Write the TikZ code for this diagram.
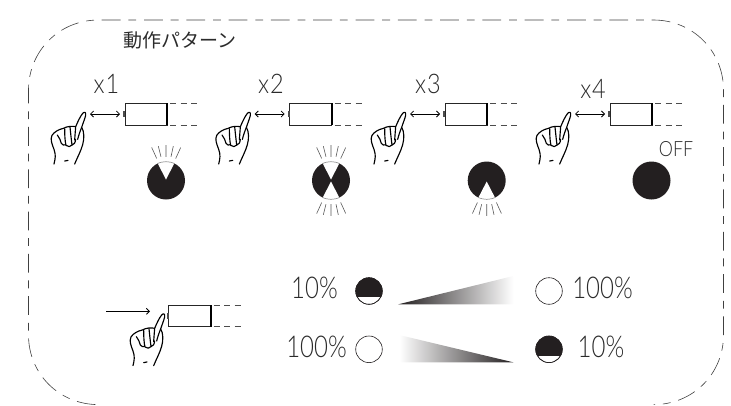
\documentclass[tikz,border=0pt]{standalone}
\usepackage{fontspec}
\setmainfont{Lato Light}
\newfontfamily\jpfont{Noto Sans CJK JP}
\usetikzlibrary{arrows.meta}
\definecolor{ink}{HTML}{231F20}
\definecolor{txt}{HTML}{2B2B2B}
\newcommand{\narrow}[2]{\scalebox{#1}[1]{#2}}
\tikzset{
  borderr/.style={draw=black!75,line width=0.6pt,dash pattern=on 18.8pt off 7.9pt on 7.8pt off 7.8pt,dash phase=39.1pt},
  borderl/.style={draw=black!75,line width=0.6pt,dash pattern=on 7.8pt off 7.9pt on 18.8pt off 7.8pt,dash phase=37.8pt},
  handline/.style={draw=black,line width=1.15pt,line join=round,line cap=round},
  ray/.style={draw=black!65,line width=0.6pt},
  rim/.style={draw=black!55,line width=0.5pt},
  lbl/.style={text=txt,inner sep=0pt,font=\fontsize{27}{27}\selectfont},
  pct/.style={text=txt,inner sep=0pt,font=\fontsize{30}{30}\selectfont},
  gauge/.style={draw=ink,line width=0.6pt,fill=white},
  press/.style={draw=black,line width=0.9pt,-{Straight Barb[length=3pt,width=6pt,black]}},
  dbl/.style={draw=black,line width=0.8pt,{Straight Barb[length=3pt,width=6pt]}-{Straight Barb[length=3pt,width=6pt]}},
  hand/.pic={
    \begin{scope}[scale=1/3,shift={(-165,-158)}]
      \path[handline,fill=white] (72,312) .. controls (76,295) and (78,285) .. (72,268)
        .. controls (66,252) and (60,238) .. (66,226)
        .. controls (72,216) and (86,208) .. (100,205)
        .. controls (112,198) and (128,198) .. (137,200)
        .. controls (143,186) and (150,170) .. (158,160)
        .. controls (164,154) and (168,156) .. (167,166)
        .. controls (164,178) and (158,192) .. (155,202)
        .. controls (163,214) and (163,236) .. (158,254)
        .. controls (152,275) and (142,292) .. (134,312);
      \path[handline] (82,225) .. controls (88,232) and (92,242) .. (94,250) .. controls (97,256) and (103,256) .. (107,254);
      \path[handline] (104,206) .. controls (104,225) and (105,245) .. (108,256) .. controls (114,262) and (122,260) .. (126,255);
      \path[handline] (120,201) .. controls (122,220) and (124,240) .. (126,255) .. controls (132,254) and (136,248) .. (137,238);
      \path[handline] (137,200) .. controls (136,212) and (135,226) .. (134,240);
      \path[handline] (155,202) .. controls (150,214) and (146,226) .. (143,238);
      \path[handline] (104,303) -- (114,301);
    \end{scope}
  },
  battery/.pic={
    \draw[black!85,line width=0.6pt] (0,0) rectangle (42,21.5);
    \fill[black!70] (-1.8,8) rectangle (0,13.5);
    \fill[black] (41.2,-0.4) rectangle (43.4,21.9);
    \draw[black!70,line width=0.6pt,dash pattern=on 6pt off 4.5pt] (45,0) -- (76,0);
    \draw[black!70,line width=0.6pt,dash pattern=on 6pt off 4.5pt] (45,21.5) -- (76,21.5);
  },
  raysup/.pic={
    \draw[ray] (-14.3,-33)--(-9.3,-22) (-7.7,-34.3)--(-5,-23.7) (0,-35.3)--(0,-23.7) (7.3,-34.3)--(5,-23.7) (14.7,-33)--(9.7,-22);
  },
  raysdown/.pic={
    \draw[ray] (-14.3,33)--(-9.3,22) (-7.7,34.3)--(-5,23.7) (0,35.3)--(0,23.7) (7.3,34.3)--(5,23.7) (14.7,33)--(9.7,22);
  },
  lampfull/.pic={\fill[ink] (0,0) circle (19);},
  wedgeup/.pic={
    \fill[white] (0,-1) -- (-8.5,-17.5) -- (-8.5,-21) -- (8.5,-21) -- (8.5,-17.5) -- cycle;
    \draw[rim] (-8.5,-17) .. controls (-4,-19.4) and (4,-19.4) .. (8.5,-17);
  },
  wedgedown/.pic={
    \fill[white] (0,1) -- (-8.5,17.5) -- (-8.5,21) -- (8.5,21) -- (8.5,17.5) -- cycle;
    \draw[rim] (-8.5,17) .. controls (-4,19.4) and (4,19.4) .. (8.5,17);
  },
  gaugefull/.pic={\path[gauge] (0,0) circle (13.3);},
  gaugelow/.pic={
    \path[gauge] (0,0) circle (13.3);
    \begin{scope}\clip (0,0) circle (13.3);
      \fill[ink] (-14,-14) rectangle (14,6.3);
    \end{scope}
    \draw[ink,line width=0.6pt] (0,0) circle (13.3);
  },
}
\begin{document}
\begin{tikzpicture}[x=1pt,y=-1pt]
\useasboundingbox (0,0) rectangle (731,405);
\path[borderr] (98.5,20) -- (653.5,20)
  .. controls (692.7,20) and (723.5,51) .. (723.5,90)
  -- (723.5,335)
  .. controls (723.5,374) and (692.7,404.6) .. (653.5,404.6);
\path[borderl] (98.5,20)
  .. controls (59.3,20) and (28.5,51) .. (28.5,90)
  -- (28.5,335)
  .. controls (28.5,374) and (59.3,404.6) .. (98.5,404.6);
\node[text=txt,inner sep=0pt,font=\jpfont\fontsize{19}{19}\selectfont] (title) at (180,40.5) {動作パターン};

% repeated units
\node[lbl] (x1) at (106.5,83.5) {\narrow{.87}{x\kern1pt 1}};
\node[lbl] (x2) at (271,83.5) {\narrow{.87}{x\kern1pt 2}};
\node[lbl] (x3) at (428,83.5) {\narrow{.87}{x\kern1pt 3}};
\node[lbl] (x4) at (593,88.5) {\narrow{.87}{x\kern1pt 4}};

\pic at (125,103.3) {battery};
\pic at (289.7,103.3) {battery};
\pic at (445,103.3) {battery};
\pic at (610,103.3) {battery};
\pic at (85,112.7) {hand};
\pic at (249.7,112.7) {hand};
\pic at (405,112.7) {hand};
\pic at (570,112.7) {hand};

\coordinate (a1) at (90,114); \coordinate (b1) at (120,114);
\coordinate (a2) at (254.7,114); \coordinate (b2) at (284.7,114);
\coordinate (a3) at (410,114); \coordinate (b3) at (440,114);
\coordinate (a4) at (575,114); \coordinate (b4) at (605,114);
\draw[dbl] (a1) -- (b1);
\draw[dbl] (a2) -- (b2);
\draw[dbl] (a3) -- (b3);
\draw[dbl] (a4) -- (b4);

% lamps
\pic at (166,180.5) {lampfull};
\pic at (166,180.5) {wedgeup};
\pic at (166,180.5) {raysup};
\pic at (331,180.5) {lampfull};
\pic at (331,180.5) {wedgeup};
\pic at (331,180.5) {wedgedown};
\pic at (331,180.5) {raysup};
\pic at (331,180.5) {raysdown};
\pic at (486.7,180.5) {lampfull};
\pic at (486.7,180.5) {wedgedown};
\pic at (486.7,180.5) {raysdown};
\pic at (651.5,180.5) {lampfull};
\node[text=txt,inner sep=0pt,font=\fontsize{21}{21}\selectfont] (off) at (676,149.5) {\narrow{.85}{OFF}};

% lower part
\pic at (168.7,305) {battery};
\pic at (164,314.3) {hand};
\coordinate (p0) at (106,311.3); \coordinate (p1) at (150,311.3);
\draw[press] (p0) -- (p1);

\node[pct] (l10) at (314.5,288) {\narrow{.8}{10\%}};
\node[pct] (r100) at (602.5,288) {\narrow{.8}{100\%}};
\node[pct] (l100) at (316.5,347) {\narrow{.8}{100\%}};
\node[pct] (r10) at (601,347) {\narrow{.8}{10\%}};
\pic at (369,291) {gaugelow};
\pic at (549,291) {gaugefull};
\pic at (369,349.3) {gaugefull};
\pic at (549,349.3) {gaugelow};

\begin{scope}
\clip (398.3,304.3) -- (513.3,304.3) -- (513.3,276) -- cycle;
\shade[left color=ink,right color=white] (398.3,270) rectangle (513.3,310);
\end{scope}
\begin{scope}
\clip (399.3,335) -- (399.3,362.3) -- (513.3,362.3) -- cycle;
\shade[left color=white,right color=ink] (399.3,330) rectangle (513.3,365);
\end{scope}
\end{tikzpicture}
\end{document}
